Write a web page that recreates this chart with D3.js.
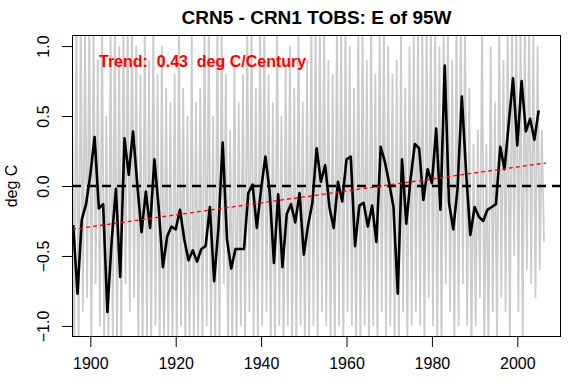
<!DOCTYPE html>
<html>
<head>
<meta charset="utf-8">
<script src="https://cdn.jsdelivr.net/npm/d3@7/dist/d3.min.js"></script>
<style>
  body { margin: 0; background: #fff; }
  text { font-family: "Liberation Sans", Arial, sans-serif; }
</style>
</head>
<body>
<svg id="chart" width="583" height="390"></svg>
<script>
// annual means (black line), first value is 1896
var annualStart = 1896;
var annualValues = [
  -0.28, -0.77, -0.24, -0.13,
  0.08, 0.35, -0.16, -0.13, -0.90, -0.39, -0.02, -0.65, 0.34, 0.08,
  0.39, 0.01, -0.33, -0.04, -0.30, 0.19, -0.15, -0.58, -0.36, -0.29,
  -0.31, -0.17, -0.38, -0.53, -0.46, -0.54, -0.45, -0.43, -0.15, -0.68,
  -0.30, 0.31, -0.38, -0.59, -0.45, -0.45, -0.45, -0.05, 0.01, -0.30,
  -0.02, 0.21, -0.04, -0.55, -0.06, -0.58, -0.20, -0.13, -0.26, -0.05,
  -0.49, -0.28, -0.12, 0.27, 0.03, 0.15, -0.15, -0.30, 0.03, -0.11,
  0.19, 0.21, -0.43, -0.14, -0.12, -0.29, -0.14, -0.40, 0.28, 0.17,
  0.02, -0.15, -0.77, 0.19, -0.27, 0.05, 0.30, 0.27, -0.10, 0.12,
  0.02, 0.41, -0.17, 0.86, -0.12, -0.31, -0.02, 0.64, 0.10, -0.35,
  -0.15, -0.22, -0.25, -0.17, -0.15, -0.13, 0.28, 0.12, 0.45, 0.77,
  0.29, 0.75, 0.39, 0.48, 0.33, 0.54
];

// monthly spread (grey line): highest and lowest month of each year, from 1896
var monthlyStart = 1896;
var monthlyHigh = [
  0.6, 1.2, 1.2, 1.2,
  1.2, 1.2, 0.9, 1.2, 0.5, 1.1, 1.2, 1.0, 1.2, 1.2,
  1.2, 1.0, 0.8, 1.2, 0.9, 1.2, 0.8, 1.0, 0.7, 0.6,
  0.8, 1.2, 0.7, 0.5, 1.1, 0.6, 0.7, 1.2, 1.2, 0.5,
  1.2, 1.2, 0.8, 0.4, 0.9, 0.6, 0.8, 1.2, 1.2, 0.7,
  1.2, 1.2, 0.8, 0.6, 1.2, 0.5, 0.9, 1.0, 0.7, 1.2,
  0.6, 0.9, 1.2, 1.2, 1.2, 1.2, 0.9, 0.8, 1.2, 1.2,
  1.2, 1.0, 0.7, 1.2, 1.2, 0.9, 1.2, 0.8, 1.2, 1.2,
  1.0, 0.8, 0.9, 1.1, 0.7, 1.0, 1.1, 1.2, 1.2, 1.2,
  1.2, 1.2, 1.0, 1.2, 1.2, 0.9, 1.2, 1.2, 1.2, 0.7,
  0.3, 0.4, 1.2, 0.3, 1.0, 0.6, 1.2, 0.9, 1.2, 1.2,
  1.2, 1.2, 1.2, 1.2, 1.1, 1.0, 0.4
];
var monthlyLow = [
  -1.2, -1.2, -0.9, -0.8,
  -1.2, -0.7, -1.0, -1.2, -1.2, -1.1, -1.2, -1.2, -0.7, -0.9,
  -0.8, -1.2, -1.2, -1.2, -1.2, -1.0, -1.2, -1.2, -1.1, -1.2,
  -1.2, -1.0, -1.2, -1.2, -1.2, -1.1, -1.2, -1.0, -1.2, -1.2,
  -1.2, -0.7, -1.2, -1.2, -1.2, -1.0, -1.2, -0.9, -1.1, -1.2,
  -1.0, -0.9, -1.2, -1.2, -1.0, -1.2, -1.0, -1.2, -1.2, -1.0,
  -1.2, -1.2, -1.0, -1.2, -0.9, -1.0, -1.2, -1.2, -1.0, -1.2,
  -0.9, -1.0, -1.2, -1.2, -1.0, -1.2, -1.0, -1.2, -0.9, -1.1,
  -1.0, -1.2, -1.2, -0.9, -1.2, -1.0, -0.9, -1.0, -1.2, -0.8,
  -1.0, -1.2, -1.2, -0.7, -0.9, -1.2, -1.0, -0.7, -1.0, -1.2,
  -1.0, -0.8, -1.2, -1.2, -0.9, -1.2, -0.8, -0.9, -1.2, -0.5,
  -0.9, -1.2, -0.6, -0.7, -0.8, -0.6, -0.4
];

// fitted trend, end points
var trendYears = [1895.75, 2006.75];
var trendValues = [-0.31, 0.165];
var trendRate = 0.43; // deg C per century

var xTicks = [1900, 1920, 1940, 1960, 1980, 2000];
var yTicks = [-1.0, -0.5, 0.0, 0.5, 1.0];

var TITLE = "CRN5 - CRN1 TOBS: E of 95W";
var YLAB = "deg C";

var svg = d3.select("#chart");
var plot = {left: 72, right: 561, top: 35, bottom: 337};

var x = d3.scaleLinear().domain([1895.71, 2010.23]).range([plot.left, plot.right]);
var y = d3.scaleLinear().domain([-1.079, 1.079]).range([plot.bottom, plot.top]);

svg.append("clipPath").attr("id", "clip")
   .append("rect")
   .attr("x", plot.left).attr("y", plot.top)
   .attr("width", plot.right - plot.left).attr("height", plot.bottom - plot.top);

var g = svg.append("g").attr("clip-path", "url(#clip)");

// grey monthly line, zig-zag high / low within each year
var greyPts = [];
monthlyHigh.forEach(function(hi, i) {
    greyPts.push([monthlyStart + i - 0.25, hi]);
    greyPts.push([monthlyStart + i + 0.25, monthlyLow[i]]);
});
var line = d3.line().x(function(d) { return x(d[0]); }).y(function(d) { return y(d[1]); });

g.append("path")
  .attr("d", line(greyPts))
  .attr("fill", "none")
  .attr("stroke", "#cccccc")
  .attr("stroke-width", 1.8);

// black annual line
var annualPts = annualValues.map(function(v, i) { return [annualStart + i, v]; });
g.append("path")
  .attr("d", line(annualPts))
  .attr("fill", "none")
  .attr("stroke", "#000")
  .attr("stroke-width", 2.6)
  .attr("stroke-linejoin", "round");

// zero line
g.append("line")
  .attr("x1", plot.left).attr("x2", plot.right)
  .attr("y1", y(0)).attr("y2", y(0))
  .attr("stroke", "#000")
  .attr("stroke-width", 2.6)
  .attr("stroke-dasharray", "9,6");

// trend line
g.append("path")
  .attr("d", line(trendYears.map(function(t, i) { return [t, trendValues[i]]; })))
  .attr("fill", "none")
  .attr("stroke", "#ff0000")
  .attr("stroke-width", 1.3)
  .attr("stroke-dasharray", "4,3");

// box
svg.append("rect")
  .attr("x", plot.left + 0.5).attr("y", plot.top + 0.5)
  .attr("width", plot.right - plot.left - 1).attr("height", plot.bottom - plot.top - 1)
  .attr("fill", "none").attr("stroke", "#000").attr("stroke-width", 1);

// x axis
var xAxis = svg.append("g")
  .attr("transform", "translate(0," + plot.bottom + ")")
  .call(d3.axisBottom(x).tickValues(xTicks).tickFormat(d3.format("d")).tickSize(10).tickSizeOuter(0).tickPadding(11));
xAxis.select(".domain").remove();
xAxis.selectAll("line").attr("stroke", "#000");
xAxis.selectAll("text")
  .attr("fill", "#000")
  .style("font-size", "16px")
  .style("font-family", "'Liberation Sans', Arial, sans-serif");

// y axis, labels parallel to the axis
var yAxis = svg.append("g")
  .attr("transform", "translate(" + plot.left + ",0)")
  .call(d3.axisLeft(y).tickValues(yTicks).tickFormat(d3.format(".1f")).tickSize(10).tickSizeOuter(0));
yAxis.select(".domain").remove();
yAxis.selectAll("line").attr("stroke", "#000");
yAxis.selectAll("text")
  .attr("fill", "#000")
  .attr("transform", "rotate(-90)")
  .attr("x", 0).attr("y", -23).attr("dy", null)
  .attr("text-anchor", "middle")
  .style("font-size", "16px")
  .style("font-family", "'Liberation Sans', Arial, sans-serif");

// title
svg.append("text")
  .attr("x", (plot.left + plot.right) / 2).attr("y", 24)
  .attr("text-anchor", "middle")
  .style("font-size", "19px").style("font-weight", "bold")
  .text(TITLE);

// y label
svg.append("text")
  .attr("transform", "translate(17," + y(0) + ") rotate(-90)")
  .attr("text-anchor", "middle")
  .style("font-size", "16px")
  .text(YLAB);

// trend label
svg.append("text")
  .attr("x", 99).attr("y", 67)
  .attr("fill", "#ff0000")
  .style("font-size", "16px").style("font-weight", "bold")
  .style("white-space", "pre")
  .attr("xml:space", "preserve")
  .text("Trend:  " + trendRate.toFixed(2) + "  deg C/Century");
</script>
</body>
</html>
